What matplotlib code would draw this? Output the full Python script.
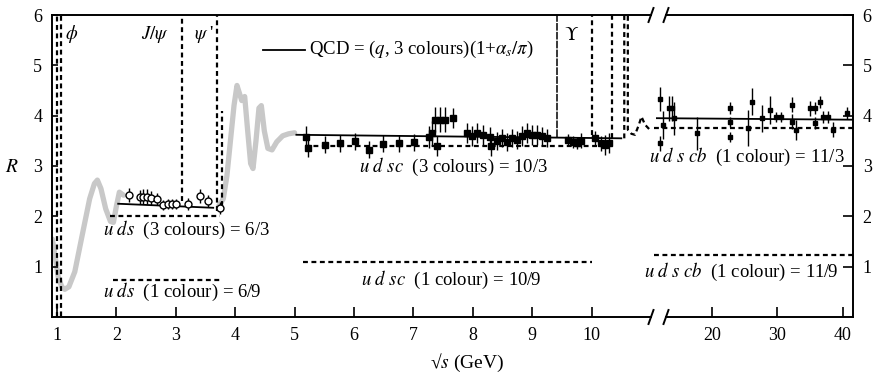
import matplotlib
matplotlib.use("Agg")
import matplotlib.pyplot as plt
from matplotlib.lines import Line2D

plt.rcParams["font.family"] = ["Liberation Serif", "DejaVu Serif"]
plt.rcParams["mathtext.fontset"] = "stix"

# ---- data ----
# low energy points (open circles)
low_x = [2.22, 2.39, 2.45, 2.52, 2.59, 2.68, 2.79, 2.87, 2.94, 3.01, 3.21, 3.41, 3.55, 3.74]
low_r = [2.43, 2.38, 2.39, 2.39, 2.37, 2.34, 2.23, 2.25, 2.25, 2.25, 2.25, 2.41, 2.30, 2.17]
low_err = [0.14, 0.14, 0.15, 0.15, 0.14, 0.12, 0.10, 0.10, 0.10, 0.10, 0.12, 0.14, 0.12, 0.12]

# 5 - 10.5 GeV points (filled squares)
mid_x = [5.20, 5.22, 5.51, 5.76, 6.02, 6.26, 6.49, 6.75, 7.01, 7.27, 7.31, 7.39, 7.36, 7.45,
         7.53, 7.67, 7.90, 7.99, 8.07, 8.17, 8.29, 8.30, 8.41, 8.49, 8.58, 8.66, 8.74, 8.83,
         8.91, 9.00, 9.08, 9.17, 9.25, 9.60, 9.68, 9.75, 9.82, 10.05, 10.15, 10.22, 10.30]
mid_r = [3.58, 3.35, 3.42, 3.45, 3.49, 3.32, 3.44, 3.45, 3.47, 3.58, 3.65, 3.40, 3.92, 3.92,
         3.92, 3.95, 3.65, 3.60, 3.65, 3.62, 3.58, 3.39, 3.50, 3.55, 3.48, 3.56, 3.52, 3.60,
         3.65, 3.62, 3.62, 3.60, 3.56, 3.52, 3.48, 3.45, 3.50, 3.55, 3.45, 3.42, 3.45]
mid_err = [0.22, 0.17, 0.17, 0.17, 0.17, 0.17, 0.17, 0.17, 0.17, 0.22, 0.25, 0.20, 0.25, 0.25,
           0.25, 0.20, 0.20, 0.20, 0.20, 0.20, 0.20, 0.20, 0.18, 0.18, 0.18, 0.18, 0.18, 0.20,
           0.20, 0.20, 0.20, 0.18, 0.18, 0.12, 0.12, 0.12, 0.15, 0.15, 0.15, 0.20, 0.20]

# 12 - 41 GeV points
hi_x = [12.06, 12.5, 12.06, 13.4, 13.9, 14.2, 17.7, 22.7, 22.7, 22.7, 25.5, 26.1, 27.6, 28.9,
        29.7, 30.6, 32.2, 32.2, 32.8, 35.0, 35.7, 35.7, 36.5, 36.9, 37.7, 38.5, 40.6]
hi_r = [4.33, 3.82, 3.45, 4.15, 4.15, 3.95, 3.65, 4.15, 3.88, 3.58, 3.76, 4.28, 3.95, 4.12,
        3.98, 3.98, 4.22, 3.88, 3.72, 4.15, 4.16, 3.85, 4.28, 3.98, 3.98, 3.72, 4.05]
hi_err = [0.23, 0.28, 0.15, 0.25, 0.25, 0.33, 0.33, 0.12, 0.10, 0.10, 0.36, 0.27, 0.27, 0.28,
          0.10, 0.10, 0.15, 0.15, 0.20, 0.15, 0.12, 0.12, 0.12, 0.12, 0.12, 0.15, 0.12]

# grey resonance curve (two visible pieces)
grey1_x = [0.92, 0.97, 1.02, 1.08, 1.13, 1.20, 1.30, 1.42, 1.55, 1.63, 1.68, 1.74,
           1.82, 1.90, 1.95, 2.00, 2.05, 2.12]
grey1_r = [1.55, 1.20, 0.80, 0.60, 0.55, 0.60, 0.90, 1.60, 2.35, 2.65, 2.72, 2.55,
           2.15, 1.90, 1.88, 2.20, 2.48, 2.42]
grey2_x = [3.72, 3.80, 3.86, 3.92, 3.98, 4.03, 4.07, 4.11, 4.16, 4.21, 4.26, 4.30,
           4.35, 4.40, 4.44, 4.49, 4.55, 4.62, 4.70, 4.80, 4.90, 5.00]
grey2_r = [2.20, 2.35, 2.80, 3.50, 4.20, 4.60, 4.45, 4.30, 4.38, 3.70, 3.05, 2.95,
           3.50, 4.15, 4.20, 3.70, 3.35, 3.32, 3.48, 3.60, 3.64, 3.66]

# QCD lines
qcd_low_x, qcd_low_r = [2.03, 3.63], [2.25, 2.17]
qcd_mid_x, qcd_mid_r = [5.03, 10.5], [3.62, 3.55]
qcd_hi_x, qcd_hi_r = [11.56, 41.53], [3.95, 3.92]

# naive quark-parton levels (as drawn)
lvl_63_x, lvl_63_r = [1.90, 3.75], 2.0
lvl_69_x, lvl_69_r = [1.94, 3.78], 0.73
lvl_103_x, lvl_103_r = [5.17, 10.3], 3.40
lvl_109_x, lvl_109_r = [5.14, 10.0], 1.10
lvl_113_x, lvl_113_r = [11.1, 41.6], 3.75
lvl_119_x, lvl_119_r = [11.1, 41.53], 1.23

# resonance lines
phi_x = [1.005, 1.005, 1.075, 1.075]
phi_r = [0.0, 6.5, 6.5, 0.0]
jpsi_x, jpsi_r = [3.10, 3.10], [2.30, 6.5]
psi2_x, psi2_r = [3.69, 3.69], [2.10, 6.5]
psi3_x, psi3_r = [3.77, 3.77], [2.20, 4.10]
ups1_x, ups1_r = [9.41, 9.41], [3.58, 6.5]
ups2_x, ups2_r = [10.0, 10.0], [3.62, 6.5]
ups3_x, ups3_r = [10.34, 10.34], [3.55, 6.5]
ups4_x = [10.55, 10.55, 10.61, 10.61, 10.67, 10.73, 10.79, 10.84, 10.90, 10.98]
ups4_r = [3.55, 6.5, 6.5, 3.72, 3.64, 3.62, 3.80, 3.98, 3.82, 3.72]

fig = plt.figure(figsize=(8.76, 3.79), dpi=100)
W, H = 876, 379
bot = (H - 317) / H
hgt = (317 - 15) / H
ax1 = fig.add_axes([52 / W, bot, (651 - 52) / W, hgt])
ax2 = fig.add_axes([656 / W, bot, (853 - 656) / W, hgt])

dash = (0, (2.2, 1.6))
grey = "#c8c8c8"
fs = 13.5

# ---- left part ----
ax1.plot(grey1_x, grey1_r, color=grey, lw=3.8, solid_capstyle="round", zorder=1)
ax1.plot(grey2_x, grey2_r, color=grey, lw=3.8, solid_capstyle="round", zorder=1)

for xs, rs in [(phi_x, phi_r), (jpsi_x, jpsi_r), (psi2_x, psi2_r), (psi3_x, psi3_r),
               (ups2_x, ups2_r), (ups3_x, ups3_r), (ups4_x, ups4_r)]:
    ax1.plot(xs, rs, color="black", lw=1.6, ls=dash, zorder=2)
ax1.plot(ups1_x, ups1_r, color="black", lw=1.1, ls=(0, (5, 0.8)), zorder=2)

ax1.plot(qcd_low_x, qcd_low_r, color="black", lw=1.3, zorder=3)
ax1.plot(qcd_mid_x, qcd_mid_r, color="black", lw=1.3, zorder=3)
for xs, r in [(lvl_63_x, lvl_63_r), (lvl_69_x, lvl_69_r), (lvl_103_x, lvl_103_r), (lvl_109_x, lvl_109_r)]:
    ax1.plot(xs, [r, r], color="black", lw=1.6, ls=dash, zorder=2)

ax1.errorbar(low_x, low_r, yerr=low_err, fmt="o", ms=5, mfc="white", mec="black", mew=1,
             ecolor="black", elinewidth=1, capsize=0, zorder=4)
ax1.errorbar(mid_x, mid_r, yerr=mid_err, fmt="s", ms=5, color="black",
             ecolor="black", elinewidth=1, capsize=0, zorder=4)

ax1.set_xlim(0.916, 11.0)
ax1.set_ylim(0, 6)
ax1.set_xticks(range(1, 11))
ax1.set_yticks([1, 2, 3, 4, 5, 6])
ax1.spines["right"].set_visible(False)
ax1.tick_params(axis="x", direction="in", length=7, width=1.2, pad=7, labelsize=13)
ax1.tick_params(axis="y", direction="in", length=4, width=1.2, pad=7, labelsize=13)

# legend line + labels
ax1.plot([4.47, 5.17], [5.31, 5.31], color="black", lw=1.3)
ax1.text(5.24, 5.31, r"QCD = ($q$, 3 colours)(1+$\alpha_s/\pi$)", fontsize=fs, va="center")
ax1.text(1.25, 5.62, r"$\phi$", fontsize=fs, ha="center", va="center")
ax1.text(2.65, 5.62, r"$J/\psi$", fontsize=fs, ha="center", va="center")
ax1.text(3.47, 5.62, r"$\psi$ '", fontsize=fs, ha="center", va="center")
ax1.text(9.66, 5.6, r"$\Upsilon$", fontsize=fs, ha="center", va="center")
ax1.text(1.77, 1.73, r"$u\ ds$  (3 colours) = 6/3", fontsize=fs, va="center")
ax1.text(1.77, 0.50, r"$u\ ds$  (1 colour) = 6/9", fontsize=fs, va="center")
ax1.text(6.08, 2.98, r"$u\ d\ sc$  (3 colours) = 10/3", fontsize=fs, va="center")
ax1.text(6.11, 0.74, r"$u\ d\ sc$  (1 colour) = 10/9", fontsize=fs, va="center")

# ---- right part ----
ax2.plot(qcd_hi_x, qcd_hi_r, color="black", lw=1.3, zorder=3)
for xs, r in [(lvl_113_x, lvl_113_r), (lvl_119_x, lvl_119_r)]:
    ax2.plot(xs, [r, r], color="black", lw=1.6, ls=dash, zorder=2, clip_on=False)
ax2.errorbar(hi_x, hi_r, yerr=hi_err, fmt="s", ms=3.5, color="black",
             ecolor="black", elinewidth=1, capsize=0, zorder=4)
ax2.text(40.3, 3.18, r"$u\ d\ s\ cb$  (1 colour) = 11/3", fontsize=fs, va="center", ha="right")
ax2.text(39.2, 0.90, r"$u\ d\ s\ cb$  (1 colour) = 11/9", fontsize=fs, va="center", ha="right")

ax2.set_xlim(11.45, 41.53)
ax2.set_ylim(0, 6)
ax2.set_xticks([20, 30, 40])
ax2.set_yticks([1, 2, 3, 4, 5, 6])
ax2.spines["left"].set_visible(False)
ax2.spines["bottom"].set_bounds(12.98, 41.53)
ax2.spines["top"].set_bounds(12.98, 41.53)
ax2.yaxis.tick_right()
ax2.tick_params(axis="x", direction="in", length=7, width=1.2, pad=7, labelsize=13)
ax2.tick_params(axis="y", direction="in", length=7, width=1.2, pad=7, labelsize=13)

for ax in (ax1, ax2):
    for s in ax.spines.values():
        s.set_linewidth(1.4)

# axis break marks
for px in (651, 666):
    for py in (15, 317):
        fig.add_artist(Line2D([(px - 2.5) / W, (px + 2.5) / W],
                              [1 - (py + 7) / H, 1 - (py - 7) / H],
                              color="black", lw=1.4))

fig.text(12 / W, 1 - 167 / H, r"$R$", fontsize=14, ha="center", va="center")
fig.text(467 / W, 1 - 363 / H, r"√$s$ (GeV)", fontsize=14, ha="center", va="center")

fig.savefig("out.png", dpi=100)
